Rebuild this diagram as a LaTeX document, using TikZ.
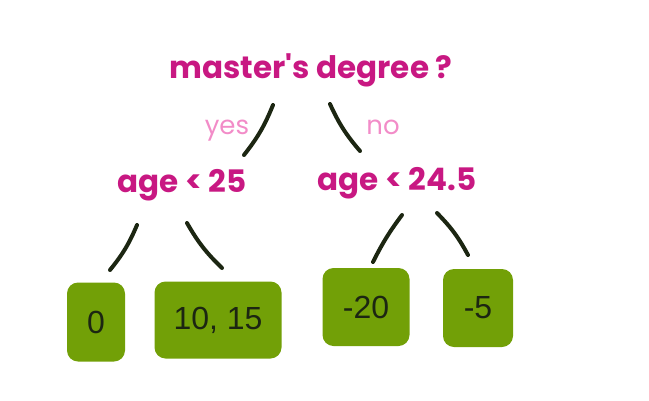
\documentclass[tikz,border=0pt]{standalone}
\usepackage{fontspec}
\usepackage{tikz}
\newfontfamily\handfont{Poppins}
\newfontfamily\leaffont{Liberation Sans}
\definecolor{question}{RGB}{200,24,130}
\definecolor{answer}{RGB}{242,140,200}
\definecolor{leafgreen}{RGB}{114,160,7}
\definecolor{stroke}{RGB}{28,38,18}

\begin{document}
\begin{tikzpicture}[x=1pt,y=-1pt,
    split/.style={font=\handfont\bfseries\fontsize{31}{33}\selectfont,text=question,anchor=base,inner sep=0pt},
    reply/.style={font=\handfont\fontsize{26}{28}\selectfont,text=answer,anchor=base,inner sep=0pt},
    leaf/.style={fill=leafgreen,rounded corners=11pt,font=\leaffont\fontsize{32}{34}\selectfont,text=stroke,inner sep=0pt},
    branch/.style={draw=stroke,line width=4pt,line cap=round}]
    \useasboundingbox (0,0) rectangle (649,400);
    \node[split] (root) at (311,78) {master's degree ?};
    \node[reply] (yes) at (227,134) {yes};
    \node[reply] (no) at (383,134) {no};
    \node[split] (ageA) at (182,192) {age < 25};
    \node[split] (ageB) at (397,190) {age < 24.5};
    \node[leaf,minimum width=58pt,minimum height=79pt] (zero) at (96,322) {0};
    \node[leaf,minimum width=127pt,minimum height=77pt] (tenfifteen) at (218,320) {10, 15};
    \node[leaf,minimum width=87pt,minimum height=78pt] (minustwenty) at (366,307) {-20};
    \node[leaf,minimum width=70pt,minimum height=78pt] (minusfive) at (478,308) {-5};
    \coordinate (yesTop) at (273,105);
    \coordinate (yesBot) at (244,155);
    \coordinate (noTop) at (330,104);
    \coordinate (noBot) at (360,151);
    \coordinate (zeroTop) at (137,225);
    \coordinate (zeroBot) at (110,270);
    \coordinate (tenTop) at (187,223);
    \coordinate (tenBot) at (222,268);
    \coordinate (twentyTop) at (402,215);
    \coordinate (twentyBot) at (373,262);
    \coordinate (fiveTop) at (437,213);
    \coordinate (fiveBot) at (468,255);
    \draw[branch] (yesTop) to[bend left=8] (yesBot);
    \draw[branch] (noTop) to[bend right=8] (noBot);
    \draw[branch] (zeroTop) to[bend left=8] (zeroBot);
    \draw[branch] (tenTop) to[bend right=8] (tenBot);
    \draw[branch] (twentyTop) to[bend right=5] (twentyBot);
    \draw[branch] (fiveTop) to[bend left=8] (fiveBot);
  \end{tikzpicture}
\end{document}
